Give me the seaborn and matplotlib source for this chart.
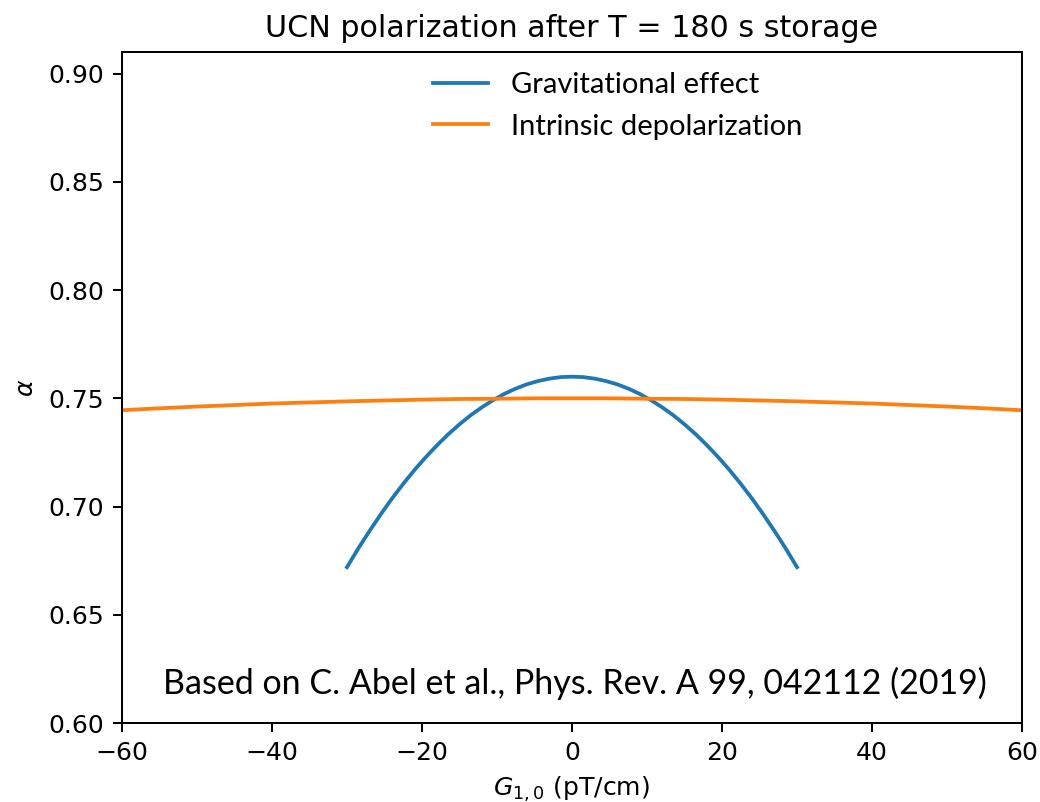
import numpy as np
import pandas as pd
import matplotlib
matplotlib.use("Agg")
import matplotlib.pyplot as plt
import seaborn as sns

# ---- data ----
grav_x = [-30, -28.5, -27, -25.5, -24, -22.5, -21, -19.5, -18, -16.5, -15, -13.5,
          -12, -10.5, -9, -7.5, -6, -4.5, -3, -1.5, 0,
          1.5, 3, 4.5, 6, 7.5, 9, 10.5, 12, 13.5, 15, 16.5, 18, 19.5, 21, 22.5,
          24, 25.5, 27, 28.5, 30]
grav_y = [0.6720, 0.6806, 0.6887, 0.6964, 0.7037, 0.7105, 0.7169, 0.7228, 0.7283,
          0.7334, 0.7380, 0.7422, 0.7459, 0.7492, 0.7521, 0.7545, 0.7565, 0.7580,
          0.7591, 0.7598, 0.7600,
          0.7598, 0.7591, 0.7580, 0.7565, 0.7545, 0.7521, 0.7492, 0.7459, 0.7422,
          0.7380, 0.7334, 0.7283, 0.7228, 0.7169, 0.7105, 0.7037, 0.6964, 0.6887,
          0.6806, 0.6720]
intr_x = [-60, -55, -50, -45, -40, -35, -30, -25, -20, -15, -10, -5, 0,
          5, 10, 15, 20, 25, 30, 35, 40, 45, 50, 55, 60]
intr_y = [0.7445, 0.7454, 0.7462, 0.7469, 0.7476, 0.7481, 0.7486, 0.7490, 0.7494,
          0.7497, 0.7498, 0.7500, 0.7500,
          0.7500, 0.7498, 0.7497, 0.7494, 0.7490, 0.7486, 0.7481, 0.7476, 0.7469,
          0.7462, 0.7454, 0.7445]
series_names = ["Gravitational effect", "Intrinsic depolarization"]
series_colors = ["#1f77b4", "#ff7f0e"]
x_ticks = [-60, -40, -20, 0, 20, 40, 60]
y_ticks = [0.60, 0.65, 0.70, 0.75, 0.80, 0.85, 0.90]

title = "UCN polarization after T = 180 s storage"
xlabel = r"$G_{1,0}$ (pT/cm)"
ylabel = r"$\alpha$"
note = "Based on C. Abel et al., Phys. Rev. A 99, 042112 (2019)"

df = pd.concat([
    pd.DataFrame({"x": grav_x, "y": grav_y, "series": series_names[0]}),
    pd.DataFrame({"x": intr_x, "y": intr_y, "series": series_names[1]}),
], ignore_index=True)

DPI = 181
fig = plt.figure(figsize=(1040 / DPI, 802 / DPI), dpi=DPI)
ax = fig.add_axes([122 / 1040, (802 - 723) / 802, 900 / 1040, 671 / 802])

sns.lineplot(data=df, x="x", y="y", hue="series", hue_order=series_names,
             palette=series_colors, ax=ax, linewidth=1.5, sort=False,
             estimator=None)

ax.set_xlim(-60, 60)
ax.set_ylim(0.60, 0.91)
ax.set_xticks(x_ticks)
ax.set_yticks(y_ticks)
ax.set_yticklabels([f"{v:.2f}" for v in y_ticks])
ax.set_title(title, fontsize=12)
ax.set_xlabel(xlabel, fontsize=10)
ax.set_ylabel(ylabel, fontsize=10)

handles, labels = ax.get_legend_handles_labels()
ax.legend(handles, labels, loc="upper left", bbox_to_anchor=(0.3456, 0.9705),
          frameon=False, borderpad=0, borderaxespad=0,
          prop={"family": "Lato", "size": 11.6},
          handlelength=1.9, handletextpad=0.76, labelspacing=0.54)

ax.text(0.503, 0.0596, note, transform=ax.transAxes, ha="center", va="center",
        fontsize=13.5, family="Lato", color="black")

fig.savefig("out.png", dpi=DPI)
